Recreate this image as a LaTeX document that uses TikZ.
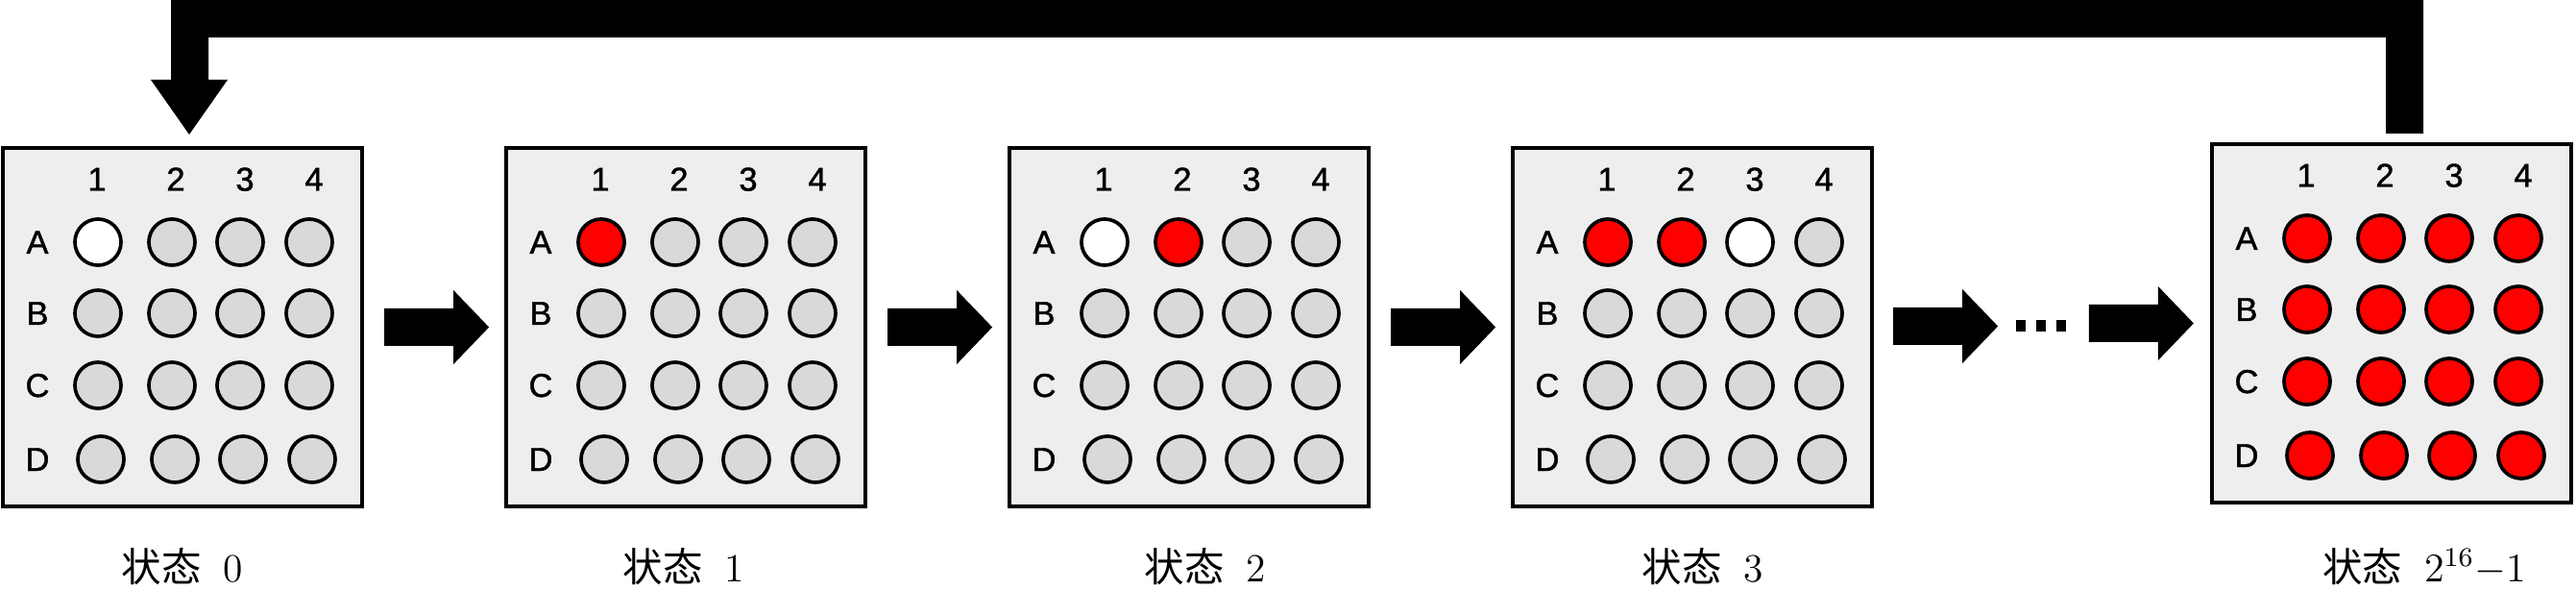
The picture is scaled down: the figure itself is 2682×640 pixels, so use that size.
\documentclass[tikz,border=0pt]{standalone}
\usepackage{fontspec}
\usetikzlibrary{calc}
\newfontfamily\cjk{Noto Sans CJK SC}
\newfontfamily\labfont[FakeBold=1.2]{Liberation Sans}
\definecolor{boxgray}{HTML}{EEEEEE}
\definecolor{dotgray}{HTML}{D9D9D9}
\definecolor{dotred}{HTML}{FF0000}
\tikzset{
  plate/.style={draw=black, line width=1.15pt, fill=boxgray, minimum width=3.74cm, minimum height=3.73cm, inner sep=0pt, outer sep=0pt},
  well/.style={circle, draw=black, line width=1.05pt, minimum size=0.48cm, inner sep=0pt},
  lab/.style={anchor=base, inner sep=0pt, font=\labfont\fontsize{9.8}{11}\selectfont},
  statecap/.style={anchor=base, inner sep=0pt, font=\fontsize{11.8}{13}\selectfont},
  blockarrow/.style={fill=black},
}
\newcommand{\plateat}[4]{%
  \node[plate] (#1) at (#2+189,#3+188.5) {};
  \foreach \lbl/\dx in {1/100,2/182,3/254,4/326}
    \node[lab] (#1-c\lbl) at (#2+\dx,#3+46.5) {\lbl};
  \foreach \lbl/\dy in {A/100,B/174,C/249,D/326}
    \node[lab] (#1-r\lbl) at (#2+38,#3+\dy+12) {\lbl};
  \foreach \wc [count=\i from 0] in {#4} {
    \pgfmathtruncatemacro\rowi{\i/4}
    \pgfmathtruncatemacro\coli{mod(\i,4)}
    \pgfmathsetmacro\cx{{101,178,249,321}[\coli] + (\rowi==3)*3}
    \pgfmathsetmacro\ry{{100,174,249,326}[\rowi]}
    \node[well, fill=\wc] (#1-w\i) at (#2+\cx,#3+\ry) {};
  }
}
\newcommand{\rightblock}[1]{%
  \fill[blockarrow, shift={(#1)}] (0,-19.5) -- (72,-19.5) -- (72,-38.5) -- (109,0) -- (72,38.5) -- (72,19.5) -- (0,19.5) -- cycle;}
\begin{document}
\begin{tikzpicture}[x=0.01cm, y=-0.01cm]
\useasboundingbox (0,0) rectangle (2682,640);
% plates
\plateat{b0}{1}{152}{white,dotgray,dotgray,dotgray,dotgray,dotgray,dotgray,dotgray,dotgray,dotgray,dotgray,dotgray,dotgray,dotgray,dotgray,dotgray}
\plateat{b1}{525}{152}{dotred,dotgray,dotgray,dotgray,dotgray,dotgray,dotgray,dotgray,dotgray,dotgray,dotgray,dotgray,dotgray,dotgray,dotgray,dotgray}
\plateat{b2}{1049}{152}{white,dotred,dotgray,dotgray,dotgray,dotgray,dotgray,dotgray,dotgray,dotgray,dotgray,dotgray,dotgray,dotgray,dotgray,dotgray}
\plateat{b3}{1573}{152}{dotred,dotred,white,dotgray,dotgray,dotgray,dotgray,dotgray,dotgray,dotgray,dotgray,dotgray,dotgray,dotgray,dotgray,dotgray}
\plateat{b4}{2301}{148}{dotred,dotred,dotred,dotred,dotred,dotred,dotred,dotred,dotred,dotred,dotred,dotred,dotred,dotred,dotred,dotred}
% block arrows between states
\coordinate (a1) at ($(b0.east)+(23,0)$);
\coordinate (a2) at ($(b1.east)+(23,0)$);
\coordinate (a3) at ($(b2.east)+(23,0)$);
\coordinate (a4) at ($(b3.east)+(22,-1)$);
\coordinate (a5) at ($(b4.west)+(-128,0)$);
\rightblock{a1}
\rightblock{a2}
\rightblock{a3}
\rightblock{a4}
\rightblock{a5}
% ellipsis dots
\foreach \dx in {128,149,170}
  \fill ($(a4)+(\dx,-6)$) rectangle ++(10,11.5);
% feedback arrow from last state back to state 0
\coordinate (fbtail) at (2503.5,139);
\coordinate (fbhead) at (197,140);
\fill[blockarrow] ($(fbtail)+(19.5,0)$) -- (2523,0) -- (178,0) -- (178,83) -- (157,83) -- (fbhead) -- (237,83) -- (217,83) -- (217,39) -- (2484,39) -- ($(fbtail)+(-19.5,0)$) -- cycle;
% captions
\node[statecap] (s0) at (190,605) {{\cjk 状态}\hspace{0.55em}0};
\node[statecap] (s1) at (712,605) {{\cjk 状态}\hspace{0.55em}1};
\node[statecap] (s2) at (1255,605) {{\cjk 状态}\hspace{0.55em}2};
\node[statecap] (s3) at (1773,605) {{\cjk 状态}\hspace{0.55em}3};
\node[statecap] (s4) at (2524,605) {{\cjk 状态}\hspace{0.55em}$2^{16}{-}1$};
\end{tikzpicture}
\end{document}
